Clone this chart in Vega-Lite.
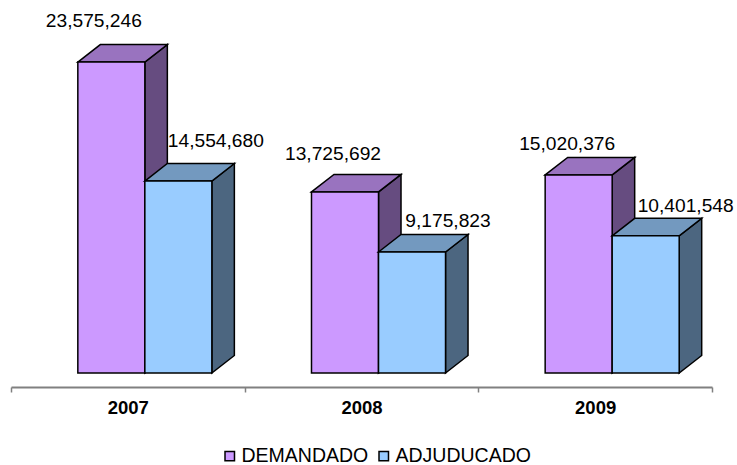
{"$schema":"https://vega.github.io/schema/vega-lite/v6.json","width":701,"height":387,"autosize":{"type":"none"},"padding":{"left":11,"top":0,"right":25,"bottom":78},"background":"white",
"config":{"view":{"stroke":null},"font":"Liberation Sans","text":{"font":"Liberation Sans"}},
"data":{"values":[
{"year":2007,"serie":"DEMANDADO","valor":23575246},
{"year":2007,"serie":"ADJUDUCADO","valor":14554680},
{"year":2008,"serie":"DEMANDADO","valor":13725692},
{"year":2008,"serie":"ADJUDUCADO","valor":9175823},
{"year":2009,"serie":"DEMANDADO","valor":15020376},
{"year":2009,"serie":"ADJUDUCADO","valor":10401548}]},
"transform":[
{"calculate":"datum.year-2007+0.286+(datum.serie=='ADJUDUCADO'?0.2868:0)","as":"x0"},
{"calculate":"datum.x0+0.2868","as":"x1"},
{"calculate":"(datum.x0+datum.x1)/2","as":"xc"},
{"calculate":"0","as":"base"},
{"calculate":"datum.year+datum.serie","as":"key"}],
"layer":[
{"transform":[{"filter":"datum.serie=='DEMANDADO'"},{"calculate":"[0,1]","as":"c"},{"flatten":["c"]},{"calculate":"datum.x1+datum.c*0.0963","as":"xp"},{"calculate":"datum.valor+datum.c*1327000","as":"yt"},{"calculate":"datum.c*1327000","as":"yb"}],
"mark":{"type":"area","fill":"#664C80","stroke":"black","strokeWidth":1.5,"opacity":1},
"encoding":{"x":{"field":"xp","type":"quantitative","scale":{"domain":[0,3],"nice":false,"zero":false},"axis":{"values":[0,1,2,3],"title":null,"grid":false,"domainColor":"#808080","domainWidth":2,"tickColor":"#808080","tickWidth":1.5,"tickSize":5,"labelExpr":"datum.value<3?''+(2007+datum.value):''","labelFont":"Liberation Sans","labelFontWeight":"bold","labelFontSize":18.5,"labelColor":"black","labelOffset":116.8,"labelPadding":6,"labelAlign":"center","labelBound":false,"labelFlush":false,"labelOverlap":false}},"y":{"field":"yt","type":"quantitative","scale":{"domain":[-1061000,28280000],"nice":false,"zero":false},"axis":null},"y2":{"field":"yb"},"detail":{"field":"key"}}},
{"transform":[{"filter":"datum.serie=='DEMANDADO'"},{"calculate":"[0,1,2,3]","as":"c"},{"flatten":["c"]},{"calculate":"[datum.x0,datum.x0+0.0963,datum.x1,datum.x1+0.0963][datum.c]","as":"xp"},{"calculate":"datum.valor+(datum.c>0?1327000:0)","as":"yt"},{"calculate":"datum.valor+(datum.c==3?1327000:0)","as":"yb"}],
"mark":{"type":"area","fill":"#9973BF","stroke":"black","strokeWidth":1.5,"opacity":1},
"encoding":{"x":{"field":"xp","type":"quantitative"},"y":{"field":"yt","type":"quantitative","axis":null},"y2":{"field":"yb"},"detail":{"field":"key"}}},
{"transform":[{"filter":"datum.serie=='DEMANDADO'"}],
"mark":{"type":"bar","stroke":"black","strokeWidth":1.5,"opacity":1},
"encoding":{"x":{"field":"x0","type":"quantitative"},"x2":{"field":"x1"},"y":{"field":"valor","type":"quantitative","axis":null},"y2":{"field":"base"},"color":{"field":"serie","type":"nominal","scale":{"domain":["DEMANDADO","ADJUDUCADO"],"range":["#CC99FF","#99CCFF"]},"legend":{"orient":"none","legendX":209,"legendY":446,"direction":"horizontal","columns":2,"title":null,"symbolType":"square","symbolSize":90,"symbolStrokeColor":"black","symbolStrokeWidth":1.5,"symbolOpacity":1,"labelFont":"Liberation Sans","labelFontSize":19.5,"labelColor":"black","labelOffset":2,"columnPadding":5,"labelLimit":200}}}},
{"transform":[{"filter":"datum.serie=='ADJUDUCADO'"},{"calculate":"[0,1]","as":"c"},{"flatten":["c"]},{"calculate":"datum.x1+datum.c*0.0963","as":"xp"},{"calculate":"datum.valor+datum.c*1327000","as":"yt"},{"calculate":"datum.c*1327000","as":"yb"}],
"mark":{"type":"area","fill":"#4C6680","stroke":"black","strokeWidth":1.5,"opacity":1},
"encoding":{"x":{"field":"xp","type":"quantitative"},"y":{"field":"yt","type":"quantitative","axis":null},"y2":{"field":"yb"},"detail":{"field":"key"}}},
{"transform":[{"filter":"datum.serie=='ADJUDUCADO'"},{"calculate":"[0,1,2,3]","as":"c"},{"flatten":["c"]},{"calculate":"[datum.x0,datum.x0+0.0963,datum.x1,datum.x1+0.0963][datum.c]","as":"xp"},{"calculate":"datum.valor+(datum.c>0?1327000:0)","as":"yt"},{"calculate":"datum.valor+(datum.c==3?1327000:0)","as":"yb"}],
"mark":{"type":"area","fill":"#7399BF","stroke":"black","strokeWidth":1.5,"opacity":1},
"encoding":{"x":{"field":"xp","type":"quantitative"},"y":{"field":"yt","type":"quantitative","axis":null},"y2":{"field":"yb"},"detail":{"field":"key"}}},
{"transform":[{"filter":"datum.serie=='ADJUDUCADO'"}],
"mark":{"type":"bar","stroke":"black","strokeWidth":1.5,"opacity":1},
"encoding":{"x":{"field":"x0","type":"quantitative"},"x2":{"field":"x1"},"y":{"field":"valor","type":"quantitative","axis":null},"y2":{"field":"base"},"color":{"field":"serie","type":"nominal"}}},
{"transform":[{"filter":"datum.year==2007&&datum.serie=='DEMANDADO'"}],"mark":{"type":"text","font":"Liberation Sans","fontSize":19.2,"color":"black","dx":-17.5,"dy":-41.5,"baseline":"middle"},"encoding":{"x":{"field":"xc","type":"quantitative"},"y":{"field":"valor","type":"quantitative","axis":null},"text":{"field":"valor","type":"quantitative","format":","}}},
{"transform":[{"filter":"datum.year==2007&&datum.serie=='ADJUDUCADO'"}],"mark":{"type":"text","font":"Liberation Sans","fontSize":19.2,"color":"black","dx":37.5,"dy":-40,"baseline":"middle"},"encoding":{"x":{"field":"xc","type":"quantitative"},"y":{"field":"valor","type":"quantitative","axis":null},"text":{"field":"valor","type":"quantitative","format":","}}},
{"transform":[{"filter":"datum.year==2008&&datum.serie=='DEMANDADO'"}],"mark":{"type":"text","font":"Liberation Sans","fontSize":19.2,"color":"black","dx":-12,"dy":-38,"baseline":"middle"},"encoding":{"x":{"field":"xc","type":"quantitative"},"y":{"field":"valor","type":"quantitative","axis":null},"text":{"field":"valor","type":"quantitative","format":","}}},
{"transform":[{"filter":"datum.year==2008&&datum.serie=='ADJUDUCADO'"}],"mark":{"type":"text","font":"Liberation Sans","fontSize":19.2,"color":"black","dx":36,"dy":-30.5,"baseline":"middle"},"encoding":{"x":{"field":"xc","type":"quantitative"},"y":{"field":"valor","type":"quantitative","axis":null},"text":{"field":"valor","type":"quantitative","format":","}}},
{"transform":[{"filter":"datum.year==2009&&datum.serie=='DEMANDADO'"}],"mark":{"type":"text","font":"Liberation Sans","fontSize":19.2,"color":"black","dx":-11.5,"dy":-31,"baseline":"middle"},"encoding":{"x":{"field":"xc","type":"quantitative"},"y":{"field":"valor","type":"quantitative","axis":null},"text":{"field":"valor","type":"quantitative","format":","}}},
{"transform":[{"filter":"datum.year==2009&&datum.serie=='ADJUDUCADO'"}],"mark":{"type":"text","font":"Liberation Sans","fontSize":19.2,"color":"black","dx":40,"dy":-30,"baseline":"middle"},"encoding":{"x":{"field":"xc","type":"quantitative"},"y":{"field":"valor","type":"quantitative","axis":null},"text":{"field":"valor","type":"quantitative","format":","}}}
]}
